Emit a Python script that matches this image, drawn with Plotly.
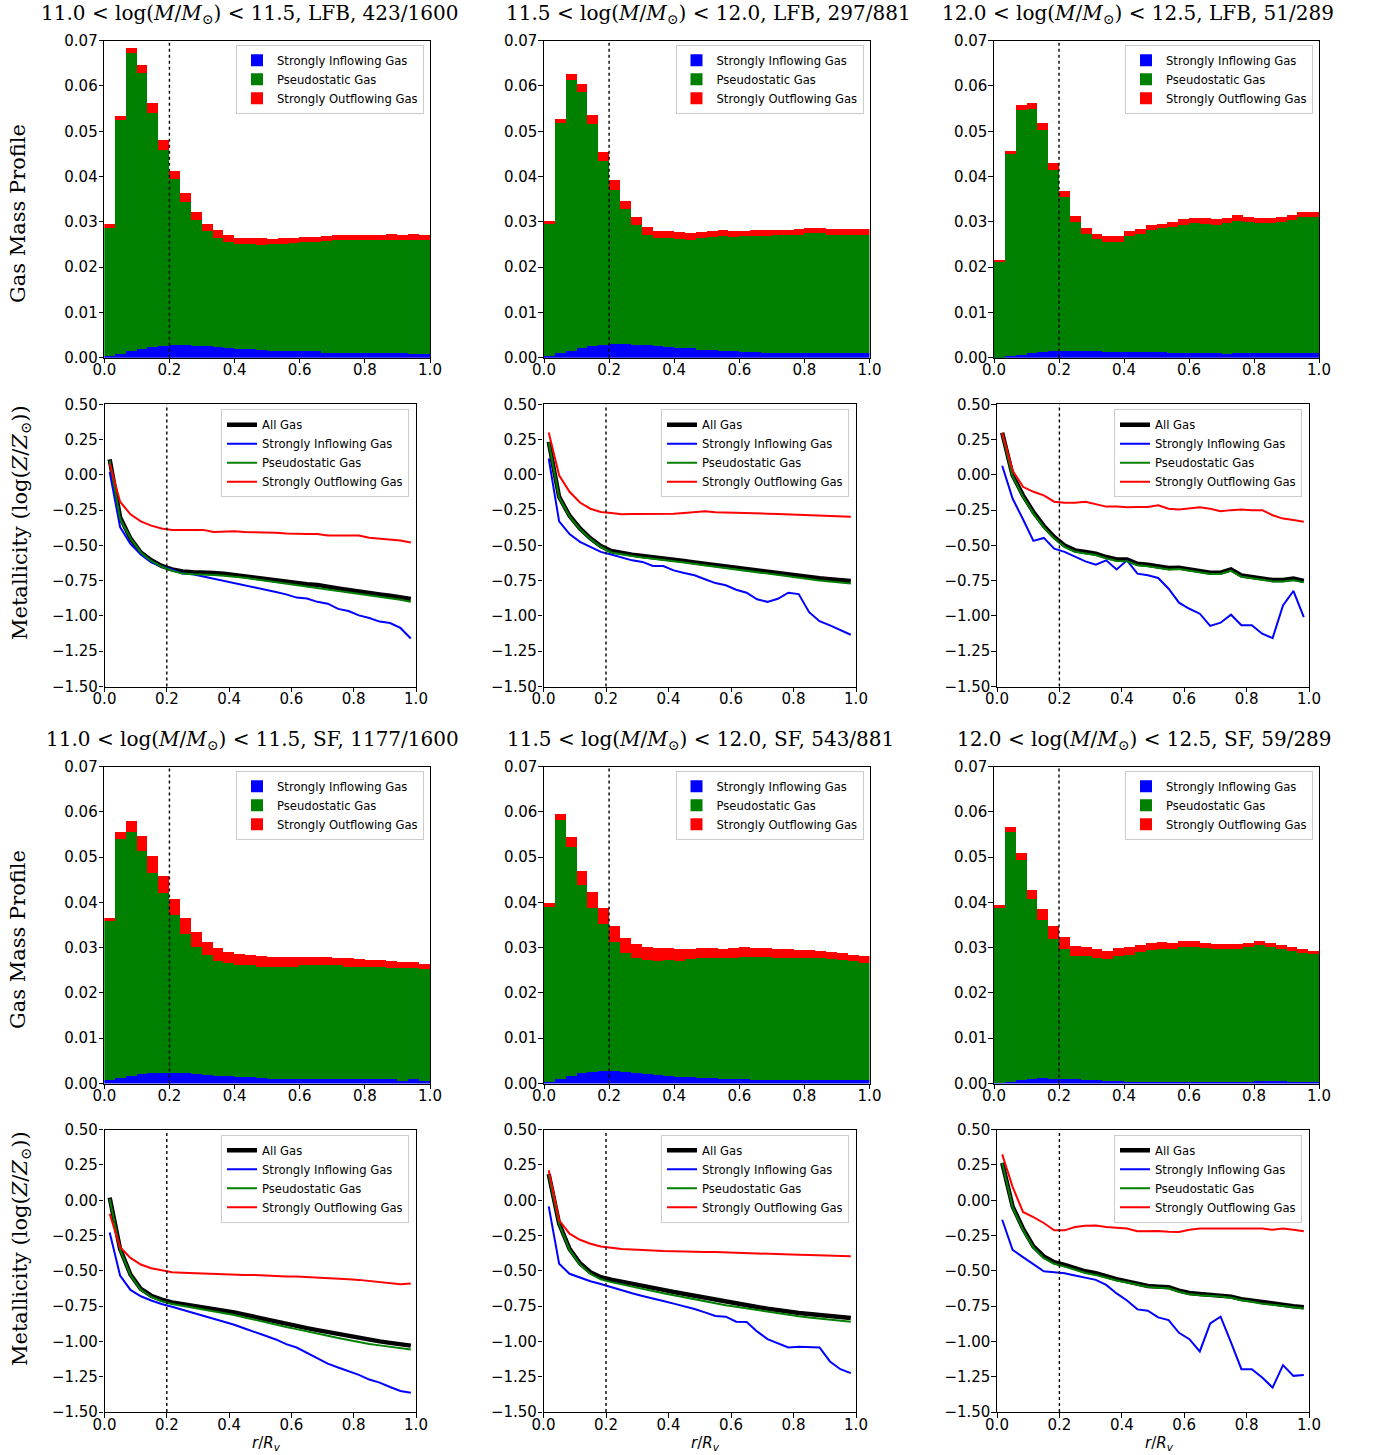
import numpy as np
import plotly.graph_objects as go

W, H = 1382, 1455
N_BINS = 30
edges = np.linspace(0.0, 1.0, N_BINS + 1)
r_centers = 0.5 * (edges[:-1] + edges[1:])

# ---------------- titles ----------------
titles_lfb = [
    "11.0 &lt; log(<i>M</i>/<i>M</i><sub>⊙</sub>) &lt; 11.5, LFB, 423/1600",
    "11.5 &lt; log(<i>M</i>/<i>M</i><sub>⊙</sub>) &lt; 12.0, LFB, 297/881",
    "12.0 &lt; log(<i>M</i>/<i>M</i><sub>⊙</sub>) &lt; 12.5, LFB, 51/289",
]
titles_sf = [
    "11.0 &lt; log(<i>M</i>/<i>M</i><sub>⊙</sub>) &lt; 11.5, SF, 1177/1600",
    "11.5 &lt; log(<i>M</i>/<i>M</i><sub>⊙</sub>) &lt; 12.0, SF, 543/881",
    "12.0 &lt; log(<i>M</i>/<i>M</i><sub>⊙</sub>) &lt; 12.5, SF, 59/289",
]
hist_names = ["Strongly Inflowing Gas", "Pseudostatic Gas", "Strongly Outflowing Gas"]
line_names = ["All Gas", "Strongly Inflowing Gas", "Pseudostatic Gas", "Strongly Outflowing Gas"]

# ---------------- gas mass profiles (stack tops) ----------------
# LFB 11.0-11.5
lfb_lo_inflow = [0.0005, 0.0008, 0.0015, 0.0019, 0.0024, 0.0026, 0.0028, 0.0028, 0.0026, 0.0026,
                 0.0024, 0.0023, 0.0020, 0.0020, 0.0018, 0.0015, 0.0015, 0.0015, 0.0015, 0.0015,
                 0.0011, 0.0011, 0.0011, 0.0011, 0.0011, 0.0011, 0.0011, 0.0011, 0.0009, 0.0009]
lfb_lo_static_top = [0.0288, 0.0526, 0.0673, 0.0629, 0.0540, 0.0459, 0.0395, 0.0345, 0.0305, 0.0280,
                     0.0265, 0.0257, 0.0252, 0.0252, 0.0250, 0.0252, 0.0252, 0.0254, 0.0256, 0.0256,
                     0.0258, 0.0260, 0.0260, 0.0260, 0.0260, 0.0260, 0.0261, 0.0260, 0.0261, 0.0260]
lfb_lo_total = [0.0295, 0.0534, 0.0685, 0.0646, 0.0562, 0.0481, 0.0414, 0.0364, 0.0322, 0.0295,
                0.0282, 0.0271, 0.0266, 0.0266, 0.0264, 0.0263, 0.0265, 0.0266, 0.0268, 0.0268,
                0.0270, 0.0272, 0.0272, 0.0272, 0.0272, 0.0272, 0.0274, 0.0272, 0.0274, 0.0272]
# LFB 11.5-12.0
lfb_mid_inflow = [0.0004, 0.0010, 0.0015, 0.0022, 0.0026, 0.0029, 0.0032, 0.0032, 0.0029, 0.0029,
                  0.0027, 0.0025, 0.0023, 0.0021, 0.0018, 0.0018, 0.0016, 0.0016, 0.0014, 0.0013,
                  0.0012, 0.0012, 0.0012, 0.0012, 0.0012, 0.0012, 0.0010, 0.0010, 0.0010, 0.0010]
lfb_mid_static_top = [0.0297, 0.0518, 0.0614, 0.0588, 0.0517, 0.0435, 0.0372, 0.0329, 0.0294, 0.0272,
                      0.0266, 0.0265, 0.0263, 0.0261, 0.0265, 0.0267, 0.0269, 0.0267, 0.0269, 0.0270,
                      0.0270, 0.0272, 0.0272, 0.0272, 0.0275, 0.0275, 0.0272, 0.0272, 0.0272, 0.0272]
lfb_mid_total = [0.0302, 0.0528, 0.0627, 0.0605, 0.0537, 0.0455, 0.0393, 0.0347, 0.0311, 0.0289,
                 0.0280, 0.0280, 0.0278, 0.0276, 0.0278, 0.0280, 0.0283, 0.0280, 0.0280, 0.0283,
                 0.0283, 0.0283, 0.0283, 0.0285, 0.0287, 0.0287, 0.0285, 0.0285, 0.0285, 0.0285]
# LFB 12.0-12.5
lfb_hi_inflow = [0.0001, 0.0004, 0.0007, 0.0010, 0.0013, 0.0015, 0.0015, 0.0015, 0.0015, 0.0015,
                 0.0013, 0.0013, 0.0013, 0.0013, 0.0013, 0.0013, 0.0010, 0.0010, 0.0010, 0.0010,
                 0.0010, 0.0008, 0.0010, 0.0010, 0.0010, 0.0010, 0.0010, 0.0010, 0.0012, 0.0010]
lfb_hi_static_top = [0.0211, 0.0450, 0.0548, 0.0549, 0.0504, 0.0416, 0.0355, 0.0300, 0.0274, 0.0262,
                     0.0257, 0.0257, 0.0269, 0.0274, 0.0282, 0.0287, 0.0289, 0.0294, 0.0298, 0.0297,
                     0.0294, 0.0298, 0.0303, 0.0300, 0.0298, 0.0298, 0.0301, 0.0305, 0.0311, 0.0311]
lfb_hi_total = [0.0216, 0.0457, 0.0558, 0.0563, 0.0519, 0.0431, 0.0369, 0.0314, 0.0287, 0.0274,
                0.0269, 0.0269, 0.0280, 0.0285, 0.0294, 0.0297, 0.0300, 0.0307, 0.0309, 0.0309,
                0.0307, 0.0309, 0.0316, 0.0311, 0.0309, 0.0309, 0.0311, 0.0316, 0.0322, 0.0322]
# SF 11.0-11.5
sf_lo_inflow = [0.0009, 0.0013, 0.0018, 0.0022, 0.0024, 0.0024, 0.0024, 0.0024, 0.0022, 0.0020,
                0.0018, 0.0018, 0.0015, 0.0015, 0.0013, 0.0011, 0.0011, 0.0011, 0.0010, 0.0010,
                0.0010, 0.0010, 0.0010, 0.0010, 0.0010, 0.0010, 0.0010, 0.0007, 0.0010, 0.0007]
sf_lo_static_top = [0.0359, 0.0541, 0.0557, 0.0515, 0.0466, 0.0422, 0.0373, 0.0332, 0.0303, 0.0284,
                    0.0272, 0.0266, 0.0262, 0.0262, 0.0259, 0.0259, 0.0259, 0.0259, 0.0262, 0.0262,
                    0.0262, 0.0262, 0.0259, 0.0259, 0.0258, 0.0258, 0.0256, 0.0255, 0.0255, 0.0253]
sf_lo_total = [0.0367, 0.0557, 0.0581, 0.0548, 0.0504, 0.0460, 0.0409, 0.0367, 0.0336, 0.0314,
               0.0301, 0.0292, 0.0287, 0.0285, 0.0283, 0.0281, 0.0281, 0.0281, 0.0280, 0.0280,
               0.0280, 0.0279, 0.0279, 0.0276, 0.0274, 0.0274, 0.0272, 0.0270, 0.0270, 0.0265]
# SF 11.5-12.0
sf_mid_inflow = [0.0004, 0.0010, 0.0017, 0.0024, 0.0026, 0.0028, 0.0028, 0.0026, 0.0024, 0.0021,
                 0.0019, 0.0017, 0.0015, 0.0014, 0.0013, 0.0013, 0.0011, 0.0010, 0.0010, 0.0009,
                 0.0009, 0.0009, 0.0009, 0.0009, 0.0009, 0.0009, 0.0009, 0.0009, 0.0009, 0.0009]
sf_mid_static_top = [0.0391, 0.0584, 0.0523, 0.0439, 0.0389, 0.0354, 0.0313, 0.0289, 0.0279, 0.0274,
                     0.0271, 0.0274, 0.0271, 0.0276, 0.0277, 0.0278, 0.0278, 0.0279, 0.0280, 0.0280,
                     0.0280, 0.0279, 0.0278, 0.0278, 0.0278, 0.0277, 0.0276, 0.0273, 0.0271, 0.0267]
sf_mid_total = [0.0400, 0.0596, 0.0545, 0.0470, 0.0424, 0.0388, 0.0349, 0.0322, 0.0309, 0.0302,
                0.0300, 0.0300, 0.0298, 0.0298, 0.0300, 0.0300, 0.0298, 0.0300, 0.0302, 0.0300,
                0.0300, 0.0298, 0.0298, 0.0296, 0.0296, 0.0293, 0.0291, 0.0289, 0.0284, 0.0282]
# SF 12.0-12.5
sf_hi_inflow = [0.0002, 0.0004, 0.0008, 0.0010, 0.0013, 0.0010, 0.0010, 0.0010, 0.0008, 0.0008,
                0.0006, 0.0006, 0.0004, 0.0004, 0.0004, 0.0004, 0.0004, 0.0004, 0.0003, 0.0004,
                0.0004, 0.0004, 0.0004, 0.0005, 0.0006, 0.0006, 0.0006, 0.0004, 0.0004, 0.0004]
sf_hi_static_top = [0.0388, 0.0556, 0.0495, 0.0408, 0.0363, 0.0320, 0.0298, 0.0283, 0.0283, 0.0279,
                    0.0276, 0.0283, 0.0284, 0.0292, 0.0296, 0.0298, 0.0298, 0.0302, 0.0302, 0.0300,
                    0.0298, 0.0298, 0.0298, 0.0302, 0.0307, 0.0302, 0.0298, 0.0293, 0.0289, 0.0287]
sf_hi_total = [0.0395, 0.0567, 0.0510, 0.0428, 0.0386, 0.0349, 0.0324, 0.0304, 0.0302, 0.0298,
               0.0293, 0.0300, 0.0302, 0.0307, 0.0311, 0.0313, 0.0311, 0.0315, 0.0315, 0.0311,
               0.0309, 0.0309, 0.0309, 0.0311, 0.0315, 0.0311, 0.0307, 0.0302, 0.0298, 0.0293]

# ---------------- metallicity profiles ----------------
lfb_lo_Z_all = [0.11, -0.30, -0.45, -0.55, -0.605, -0.645, -0.67, -0.685, -0.69, -0.69,
                -0.695, -0.70, -0.71, -0.72, -0.73, -0.735, -0.745, -0.76, -0.765, -0.775,
                -0.78, -0.795, -0.805, -0.816, -0.828, -0.837, -0.847, -0.856, -0.866, -0.88]
lfb_lo_Z_in = [0.02, -0.37, -0.49, -0.565, -0.62, -0.65, -0.67, -0.70, -0.705, -0.72,
               -0.735, -0.75, -0.765, -0.78, -0.80, -0.815, -0.83, -0.847, -0.87, -0.877,
               -0.90, -0.913, -0.95, -0.965, -0.996, -1.015, -1.04, -1.05, -1.085, -1.16]
lfb_lo_Z_static = [0.10, -0.31, -0.45, -0.55, -0.61, -0.65, -0.68, -0.70, -0.705, -0.705,
                   -0.71, -0.715, -0.72, -0.73, -0.74, -0.75, -0.76, -0.77, -0.78, -0.79,
                   -0.80, -0.81, -0.82, -0.83, -0.845, -0.855, -0.865, -0.875, -0.885, -0.90]
lfb_lo_Z_out = [0.08, -0.19, -0.28, -0.33, -0.36, -0.38, -0.39, -0.39, -0.39, -0.39,
                -0.405, -0.40, -0.40, -0.405, -0.405, -0.41, -0.41, -0.415, -0.42, -0.42,
                -0.42, -0.43, -0.43, -0.43, -0.43, -0.445, -0.45, -0.455, -0.465, -0.48]

lfb_mid_Z_all = [0.234, -0.156, -0.29, -0.38, -0.45, -0.505, -0.54, -0.556, -0.565, -0.575,
                 -0.582, -0.59, -0.60, -0.61, -0.62, -0.63, -0.64, -0.65, -0.66, -0.67,
                 -0.68, -0.69, -0.70, -0.71, -0.72, -0.725, -0.733, -0.74, -0.745, -0.752]
lfb_mid_Z_in = [0.116, -0.33, -0.42, -0.475, -0.51, -0.546, -0.565, -0.585, -0.606, -0.617,
                -0.646, -0.646, -0.677, -0.695, -0.712, -0.74, -0.767, -0.783, -0.814, -0.835,
                -0.882, -0.90, -0.878, -0.835, -0.845, -0.973, -1.037, -1.067, -1.10, -1.133]
lfb_mid_Z_static = [0.23, -0.16, -0.295, -0.385, -0.455, -0.51, -0.55, -0.565, -0.575, -0.585,
                    -0.593, -0.602, -0.612, -0.622, -0.632, -0.642, -0.652, -0.662, -0.672, -0.683,
                    -0.693, -0.703, -0.713, -0.723, -0.733, -0.739, -0.748, -0.755, -0.762, -0.77]
lfb_mid_Z_out = [0.30, -0.003, -0.12, -0.196, -0.24, -0.263, -0.27, -0.28, -0.277, -0.277,
                 -0.277, -0.277, -0.275, -0.27, -0.265, -0.258, -0.265, -0.268, -0.27, -0.273,
                 -0.272, -0.275, -0.277, -0.28, -0.285, -0.285, -0.287, -0.29, -0.295, -0.297]

lfb_hi_Z_all = [0.298, -0.003, -0.145, -0.263, -0.362, -0.44, -0.50, -0.535, -0.547, -0.558,
                -0.582, -0.60, -0.60, -0.63, -0.637, -0.646, -0.66, -0.658, -0.67, -0.68,
                -0.693, -0.693, -0.67, -0.712, -0.724, -0.735, -0.745, -0.745, -0.735, -0.752]
lfb_hi_Z_in = [0.064, -0.168, -0.315, -0.468, -0.447, -0.523, -0.546, -0.582, -0.613, -0.637,
               -0.606, -0.67, -0.606, -0.70, -0.712, -0.731, -0.807, -0.906, -0.949, -0.984,
               -1.071, -1.048, -0.991, -1.066, -1.066, -1.126, -1.157, -0.925, -0.823, -1.008]
lfb_hi_Z_static = [0.29, -0.01, -0.155, -0.273, -0.372, -0.45, -0.51, -0.545, -0.557, -0.568,
                   -0.592, -0.61, -0.612, -0.64, -0.647, -0.656, -0.67, -0.668, -0.68, -0.69,
                   -0.703, -0.703, -0.68, -0.722, -0.734, -0.745, -0.755, -0.755, -0.747, -0.762]
lfb_hi_Z_out = [0.298, 0.03, -0.085, -0.12, -0.145, -0.19, -0.197, -0.197, -0.19, -0.205,
                -0.225, -0.225, -0.23, -0.228, -0.228, -0.215, -0.24, -0.246, -0.237, -0.23,
                -0.24, -0.258, -0.25, -0.246, -0.25, -0.25, -0.286, -0.31, -0.32, -0.333]

sf_lo_Z_all = [0.019, -0.344, -0.526, -0.628, -0.676, -0.704, -0.723, -0.735, -0.744, -0.754,
               -0.766, -0.78, -0.794, -0.81, -0.827, -0.844, -0.858, -0.875, -0.889, -0.906,
               -0.92, -0.934, -0.948, -0.962, -0.977, -0.99, -1.0, -1.01, -1.02, -1.03]
sf_lo_Z_in = [-0.228, -0.533, -0.635, -0.68, -0.71, -0.735, -0.754, -0.775, -0.794, -0.818,
              -0.841, -0.86, -0.882, -0.908, -0.936, -0.96, -0.986, -1.019, -1.043, -1.083,
              -1.119, -1.157, -1.185, -1.209, -1.237, -1.27, -1.292, -1.323, -1.351, -1.363]
sf_lo_Z_static = [0.01, -0.35, -0.53, -0.635, -0.685, -0.715, -0.735, -0.748, -0.758, -0.77,
                  -0.783, -0.798, -0.813, -0.83, -0.848, -0.866, -0.881, -0.898, -0.913, -0.93,
                  -0.945, -0.96, -0.975, -0.99, -1.005, -1.018, -1.028, -1.038, -1.048, -1.058]
sf_lo_Z_out = [-0.095, -0.332, -0.408, -0.455, -0.481, -0.498, -0.51, -0.514, -0.517, -0.517,
               -0.52, -0.526, -0.53, -0.53, -0.53, -0.535, -0.535, -0.54, -0.54, -0.545,
               -0.545, -0.55, -0.555, -0.56, -0.564, -0.571, -0.578, -0.585, -0.595, -0.59]

sf_mid_Z_all = [0.185, -0.166, -0.344, -0.446, -0.51, -0.545, -0.562, -0.578, -0.593, -0.607,
                -0.621, -0.635, -0.65, -0.664, -0.678, -0.692, -0.706, -0.72, -0.732, -0.744,
                -0.756, -0.768, -0.78, -0.789, -0.799, -0.806, -0.813, -0.82, -0.827, -0.834]
sf_mid_Z_in = [-0.043, -0.45, -0.521, -0.55, -0.574, -0.593, -0.616, -0.64, -0.659, -0.678,
               -0.694, -0.713, -0.732, -0.749, -0.77, -0.794, -0.82, -0.825, -0.86, -0.863,
               -0.929, -0.984, -1.014, -1.043, -1.038, -1.043, -1.043, -1.142, -1.197, -1.225]
sf_mid_Z_static = [0.18, -0.17, -0.35, -0.455, -0.522, -0.56, -0.58, -0.597, -0.613, -0.628,
                   -0.643, -0.658, -0.673, -0.687, -0.701, -0.715, -0.729, -0.743, -0.755, -0.767,
                   -0.779, -0.791, -0.803, -0.812, -0.822, -0.83, -0.838, -0.845, -0.852, -0.86]
sf_mid_Z_out = [0.213, -0.142, -0.237, -0.28, -0.308, -0.327, -0.337, -0.346, -0.348, -0.35,
                -0.356, -0.36, -0.363, -0.363, -0.365, -0.367, -0.367, -0.37, -0.372, -0.374,
                -0.377, -0.379, -0.381, -0.384, -0.386, -0.388, -0.39, -0.39, -0.393, -0.396]

sf_hi_Z_all = [0.265, -0.043, -0.20, -0.327, -0.398, -0.438, -0.457, -0.481, -0.503, -0.517,
               -0.54, -0.559, -0.574, -0.593, -0.607, -0.612, -0.616, -0.64, -0.657, -0.664,
               -0.668, -0.673, -0.683, -0.70, -0.711, -0.725, -0.732, -0.742, -0.751, -0.758]
sf_hi_Z_in = [-0.138, -0.351, -0.403, -0.455, -0.503, -0.51, -0.517, -0.533, -0.55, -0.564,
              -0.60, -0.66, -0.71, -0.773, -0.782, -0.83, -0.849, -0.939, -0.984, -1.071,
              -0.872, -0.825, -1.007, -1.197, -1.197, -1.256, -1.327, -1.168, -1.244, -1.237]
sf_hi_Z_static = [0.265, -0.05, -0.21, -0.335, -0.41, -0.45, -0.47, -0.495, -0.515, -0.53,
                  -0.55, -0.568, -0.583, -0.60, -0.615, -0.62, -0.624, -0.648, -0.665, -0.673,
                  -0.676, -0.681, -0.691, -0.708, -0.719, -0.733, -0.74, -0.75, -0.759, -0.766]
sf_hi_Z_out = [0.325, 0.095, -0.083, -0.119, -0.161, -0.213, -0.213, -0.19, -0.18, -0.178,
               -0.19, -0.194, -0.2, -0.22, -0.218, -0.218, -0.223, -0.225, -0.209, -0.2,
               -0.2, -0.2, -0.197, -0.197, -0.2, -0.2, -0.209, -0.2, -0.209, -0.22]

# ---------------- layout geometry (pixels) ----------------
hist_cols = [(104.3, 430.0), (544.0, 869.5), (994.0, 1319.0)]
metal_cols = [(104.5, 416.0), (543.5, 856.0), (997.0, 1309.0)]
rows = [(40.7, 357.7), (404.3, 686.5), (766.7, 1083.5), (1129.7, 1412.0)]
title_x = [[249, 708, 1138], [252, 700, 1144]]
title_y = [14, 740]

hist_data = [
    (lfb_lo_inflow, lfb_lo_static_top, lfb_lo_total),
    (lfb_mid_inflow, lfb_mid_static_top, lfb_mid_total),
    (lfb_hi_inflow, lfb_hi_static_top, lfb_hi_total),
    (sf_lo_inflow, sf_lo_static_top, sf_lo_total),
    (sf_mid_inflow, sf_mid_static_top, sf_mid_total),
    (sf_hi_inflow, sf_hi_static_top, sf_hi_total),
]
metal_data = [
    (lfb_lo_Z_all, lfb_lo_Z_in, lfb_lo_Z_static, lfb_lo_Z_out),
    (lfb_mid_Z_all, lfb_mid_Z_in, lfb_mid_Z_static, lfb_mid_Z_out),
    (lfb_hi_Z_all, lfb_hi_Z_in, lfb_hi_Z_static, lfb_hi_Z_out),
    (sf_lo_Z_all, sf_lo_Z_in, sf_lo_Z_static, sf_lo_Z_out),
    (sf_mid_Z_all, sf_mid_Z_in, sf_mid_Z_static, sf_mid_Z_out),
    (sf_hi_Z_all, sf_hi_Z_in, sf_hi_Z_static, sf_hi_Z_out),
]

BAR_COLORS = ["#0000ff", "#008000", "#ff0000"]
LINE_COLORS = ["#000000", "#0000ff", "#008000", "#ff0000"]
LINE_WIDTHS = [4.4, 2, 2, 2]
TICK_FONT = dict(family="DejaVu Sans", size=15, color="black")
LEG_FONT = dict(family="DejaVu Sans", size=11.6, color="black")
SERIF = "DejaVu Serif"

fig = go.Figure()
layout = dict(width=W, height=H, autosize=False,
              margin=dict(l=0, r=0, t=0, b=0, pad=0),
              paper_bgcolor="white", plot_bgcolor="white",
              barmode="stack", bargap=0, showlegend=True,
              font=dict(family="DejaVu Sans", color="black"))
shapes = []
annotations = []


def px_x(v):
    return v / W


def px_y(v):
    return 1 - v / H


def axis_common():
    return dict(showline=True, linecolor="black", linewidth=1.2, mirror=True,
                ticks="outside", ticklen=4.5, tickwidth=1.2, tickcolor="black",
                showgrid=False, zeroline=False, tickfont=TICK_FONT, automargin=False)


panel = 0
for row in range(4):
    is_hist = row % 2 == 0
    group = row // 2
    for col in range(3):
        panel += 1
        sfx = "" if panel == 1 else str(panel)
        xid, yid = "x" + sfx, "y" + sfx
        legid = "legend" + sfx
        cx = hist_cols[col] if is_hist else metal_cols[col]
        ry = rows[row]
        xa = axis_common()
        xa.update(domain=[px_x(cx[0]), px_x(cx[1])], range=[0, 1], anchor=yid,
                  tickmode="array", tickvals=[0, 0.2, 0.4, 0.6, 0.8, 1.0], tickformat=".1f",
                  ticklabelstandoff=-6)
        ya = axis_common()
        ya.update(domain=[px_y(ry[1]), px_y(ry[0])], anchor=xid, ticklabelstandoff=-2)
        idx = group * 3 + col
        if is_hist:
            ya.update(range=[0, 0.07], tickmode="linear", tick0=0, dtick=0.01, tickformat=".2f")
            inflow, static_top, total = (np.array(a) for a in hist_data[idx])
            segments = [inflow, static_top - inflow, total - static_top]
            for name, seg, colr in zip(hist_names, segments, BAR_COLORS):
                fig.add_trace(go.Bar(x=r_centers, y=seg, width=1.0 / N_BINS, name=name,
                                     marker=dict(color=colr, line=dict(width=0)),
                                     xaxis=xid, yaxis=yid, legend=legid))
            leg_right, leg_top = cx[1] - 6, ry[0] + 4
        else:
            ya.update(range=[-1.5, 0.5], tickmode="linear", tick0=-1.5, dtick=0.25, tickformat=".2f")
            for name, vals, colr, lw in zip(line_names, metal_data[idx], LINE_COLORS, LINE_WIDTHS):
                fig.add_trace(go.Scatter(x=r_centers, y=vals, mode="lines", name=name,
                                         line=dict(color=colr, width=lw),
                                         xaxis=xid, yaxis=yid, legend=legid))
            leg_right, leg_top = cx[1] - 7, ry[0] + 5
        layout["xaxis" + sfx] = xa
        layout["yaxis" + sfx] = ya
        layout[legid] = dict(x=px_x(leg_right), y=px_y(leg_top), xanchor="right", yanchor="top",
                             bgcolor="rgba(255,255,255,0.8)", bordercolor="#cccccc", borderwidth=1,
                             font=LEG_FONT, traceorder="normal", tracegroupgap=0)
        shapes.append(dict(type="line", xref=xid, yref=yid + " domain", x0=0.2, x1=0.2, y0=0, y1=1,
                           line=dict(color="black", width=1.4, dash="dot"), layer="above"))
        if is_hist:
            annotations.append(dict(text=(titles_lfb if group == 0 else titles_sf)[col],
                                    x=px_x(title_x[group][col]), y=px_y(title_y[group]),
                                    xref="paper", yref="paper", showarrow=False,
                                    xanchor="center", yanchor="middle",
                                    font=dict(family=SERIF, size=20, color="black")))

# y labels
for yc in (214, 940):
    annotations.append(dict(text="Gas Mass Profile", x=px_x(18), y=px_y(yc), xref="paper", yref="paper",
                            showarrow=False, textangle=-90, xanchor="center", yanchor="middle",
                            font=dict(family=SERIF, size=21, color="black")))
for yc in (523, 1249):
    annotations.append(dict(text="Metallicity (log(<i>Z</i>/<i>Z</i><sub>⊙</sub>))",
                            x=px_x(21), y=px_y(yc), xref="paper", yref="paper",
                            showarrow=False, textangle=-90, xanchor="center", yanchor="middle",
                            font=dict(family=SERIF, size=21, color="black")))
# x labels on bottom row
for col in range(3):
    cx = metal_cols[col]
    annotations.append(dict(text="<i>r</i>/<i>R<sub>v</sub></i>", x=px_x(0.5 * (cx[0] + cx[1]) + 6),
                            y=px_y(1443), xref="paper", yref="paper", showarrow=False,
                            xanchor="center", yanchor="middle",
                            font=dict(family="DejaVu Sans", size=15, color="black")))

layout["shapes"] = shapes
layout["annotations"] = annotations
fig.update_layout(**layout)
fig.write_html("out.html")
